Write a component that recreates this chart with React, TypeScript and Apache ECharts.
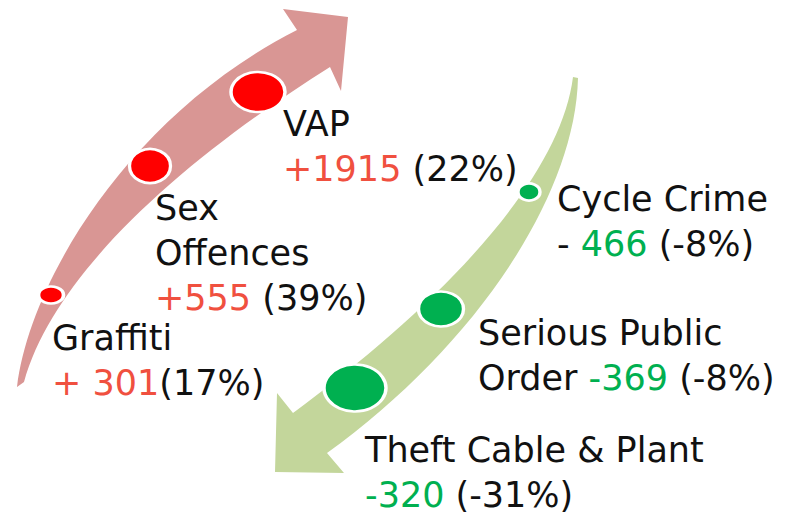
import React, { useEffect, useRef } from "react";
import * as echarts from "echarts";

// ---- data ----
const categories = ["VAP", "Sex Offences", "Graffiti", "Cycle Crime", "Serious Public Order", "Theft Cable & Plant"];
const changeValues = [1915, 555, 301, -466, -369, -320];
const changePercents = [22, 39, 17, -8, -8, -31];

// ---- layout (pixels) ----
const markerPos = [[258, 92], [150, 166], [51, 295], [529, 192], [441, 309], [355, 388]];
const markerSizes = [[54, 40], [41, 34], [25, 17], [22, 17], [45, 35], [62, 47]];
const labelPos = [[283, 123.5], [155, 208], [52, 338], [557, 199], [478, 333], [365, 450]];
const labelTemplates = [
  ["VAP", "{r|+#N} (#P%)"],
  ["Sex", "Offences", "{r|+#N} (#P%)"],
  ["Graffiti", "{r|+ #N}(#P%)"],
  ["Cycle Crime", "- {g|#N} (#P%)"],
  ["Serious Public", "Order {g|-#N} (#P%)"],
  ["Theft Cable & Plant", "{g|-#N} (#P%)"],
];
const LINE_GAP = 45;

const RED_ARROW =
  "M17 387 C30 280 130 115 297 30 L283 9 L348 17 L341 91 L330 67 C190 155 55 270 24 382 Z";
const GREEN_ARROW =
  "M573 77 C560 180 440 305 293 413 L277 393 L275 472 L344 473 L327 453 C470 350 575 200 578 78 Z";

const FONT = "'DejaVu Sans', sans-serif";
const FS = 35;

echarts.graphic.registerShape("redArrow", echarts.graphic.extendPath(RED_ARROW, {}));
echarts.graphic.registerShape("greenArrow", echarts.graphic.extendPath(GREEN_ARROW, {}));

export default function App() {
  const ref = useRef<HTMLDivElement>(null);
  useEffect(() => {
    document.body.style.margin = "0";
    const chart = echarts.init(ref.current!, null, { renderer: "svg" });

    const texts: any[] = [];
    labelTemplates.forEach((lines, i) => {
      lines.forEach((tpl, j) => {
        const txt = tpl
          .replace("#N", String(Math.abs(changeValues[i])))
          .replace("#P", String(changePercents[i]));
        texts.push({
          type: "text",
          x: labelPos[i][0],
          y: labelPos[i][1] + j * LINE_GAP,
          style: {
            text: txt,
            fontSize: FS,
            fontFamily: FONT,
            fill: "#111111",
            align: "left",
            verticalAlign: "middle",
            rich: {
              r: { fill: "#F0503F", fontSize: FS, fontFamily: FONT },
              g: { fill: "#00B050", fontSize: FS, fontFamily: FONT },
            },
          },
          z: 10,
        });
      });
    });

    chart.setOption({
      animation: false,
      grid: { left: 0, right: 0, top: 0, bottom: 0 },
      xAxis: { type: "value", min: 0, max: 788, show: false },
      yAxis: { type: "value", min: 0, max: 522, inverse: true, show: false },
      graphic: [
        { type: "redArrow", x: 0, y: 0, style: { fill: "#D99694" }, z: 0 },
        { type: "greenArrow", x: 0, y: 0, style: { fill: "#C3D69B" }, z: 0 },
        ...texts,
      ],
      series: [
        {
          type: "scatter",
          z: 5,
          emphasis: { disabled: true },
          data: categories.map((c, i) => ({
            name: c,
            value: [markerPos[i][0], markerPos[i][1], changeValues[i], changePercents[i]],
            symbolSize: markerSizes[i],
            itemStyle: {
              color: changeValues[i] > 0 ? "#FF0000" : "#00B050",
              borderColor: "#FFFFFF",
              borderWidth: 3,
              opacity: 1,
            },
          })),
        },
      ],
    });
    return () => chart.dispose();
  }, []);
  return <div ref={ref} style={{ width: 788, height: 522 }} />;
}
